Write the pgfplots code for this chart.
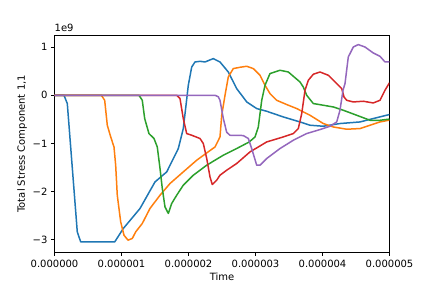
\documentclass[border=0pt]{standalone}
\usepackage{fontspec}
\setmainfont{DejaVu Sans}
\usepackage{pgfplots}
\pgfplotsset{compat=1.18}
\definecolor{c0}{HTML}{1F77B4}
\definecolor{c1}{HTML}{FF7F0E}
\definecolor{c2}{HTML}{2CA02C}
\definecolor{c3}{HTML}{D62728}
\definecolor{c4}{HTML}{9467BD}
\begin{document}
\begin{tikzpicture}
\useasboundingbox (-54.5pt,-35.7pt) rectangle (377.5pt,252.3pt);
\begin{axis}[
  at={(0pt,0pt)}, anchor=south west,
  scale only axis, width=335pt, height=217pt,
  xmin=0, xmax=5, ymin=-3.26, ymax=1.245,
  xtick={0,1,2,3,4,5},
  xticklabels={0.000000,0.000001,0.000002,0.000003,0.000004,0.000005},
  ytick={-3,-2,-1,0,1},
  yticklabels={−3,−2,−1,0,1},
  tick align=outside, major tick length=3.5pt,
  every tick/.style={black, line width=0.8pt},
  axis line style={line width=0.8pt},
  xtick pos=bottom, ytick pos=left,
  ticklabel style={font=\fontsize{10}{12}\selectfont},
  xticklabel style={yshift=-1pt},
  xlabel={Time}, ylabel={Total Stress Component 1,1},
  label style={font=\fontsize{10}{12}\selectfont},
  xlabel style={at={(axis description cs:0.5,-0.114)}, anchor=center},
  ylabel style={at={(axis description cs:-0.097,0.5)}, anchor=center, rotate=0},
  clip=true,
  every axis plot/.append style={line width=1.5pt, line join=round},
]
\addplot[c0] coordinates {
(0,0) (0.142,0) (0.191,-0.172) (0.340,-2.836) (0.391,-3.044) (0.899,-3.044)
(1.027,-2.766) (1.276,-2.351) (1.500,-1.799) (1.675,-1.591) (1.848,-1.106)
(1.922,-0.691) (1.963,-0.207) (1.997,0.207) (2.048,0.587) (2.097,0.691)
(2.172,0.705) (2.246,0.691) (2.370,0.761) (2.470,0.691) (2.594,0.483)
(2.719,0.139) (2.869,-0.139) (3.018,-0.276) (3.167,-0.332) (3.415,-0.450)
(3.664,-0.554) (3.813,-0.622) (4.012,-0.643) (4.261,-0.587) (4.560,-0.554)
(4.758,-0.483) (5.0,-0.40)
};
\addplot[c1] coordinates {
(0,0) (0.699,0) (0.749,-0.104) (0.788,-0.622) (0.839,-0.865) (0.888,-1.073)
(0.913,-1.452) (0.937,-2.075) (0.988,-2.629) (1.037,-2.905) (1.097,-3.008)
(1.161,-2.973) (1.212,-2.836) (1.310,-2.662) (1.425,-2.35) (1.575,-2.075)
(1.724,-1.832) (1.922,-1.591) (2.122,-1.349) (2.272,-1.197) (2.396,-1.073)
(2.470,-0.865) (2.496,-0.415) (2.545,0) (2.594,0.380) (2.669,0.554)
(2.769,0.581) (2.869,0.602) (2.967,0.554) (3.067,0.415) (3.142,0.207)
(3.216,0.035) (3.316,-0.104) (3.466,-0.193) (3.615,-0.276) (3.813,-0.415)
(4.012,-0.587) (4.161,-0.658) (4.361,-0.705) (4.560,-0.691) (4.709,-0.622)
(4.858,-0.554) (5.0,-0.515)
};
\addplot[c2] coordinates {
(0,0) (1.261,0) (1.310,-0.104) (1.346,-0.483) (1.410,-0.795) (1.485,-0.898)
(1.534,-1.073) (1.575,-1.521) (1.609,-1.936) (1.649,-2.317) (1.699,-2.454)
(1.749,-2.247) (1.824,-2.075) (1.922,-1.867) (2.072,-1.660) (2.272,-1.452)
(2.519,-1.245) (2.719,-1.106) (2.907,-0.969) (2.993,-0.865) (3.042,-0.658)
(3.093,-0.104) (3.142,0.207) (3.216,0.450) (3.366,0.519) (3.490,0.483)
(3.664,0.276) (3.713,0.172) (3.764,0) (3.863,-0.172) (4.012,-0.207)
(4.161,-0.243) (4.310,-0.311) (4.510,-0.415) (4.709,-0.519) (4.858,-0.519)
(5.0,-0.495)
};
\addplot[c3] coordinates {
(0,0) (1.824,0) (1.873,-0.068) (1.922,-0.483) (1.973,-0.795) (2.048,-0.830)
(2.172,-0.898) (2.221,-1.002) (2.272,-1.313) (2.321,-1.695) (2.355,-1.853)
(2.421,-1.763) (2.470,-1.660) (2.570,-1.556) (2.719,-1.417) (2.918,-1.176)
(3.167,-0.969) (3.415,-0.865) (3.564,-0.795) (3.639,-0.691) (3.690,-0.380)
(3.739,0.104) (3.788,0.311) (3.863,0.436) (3.963,0.483) (4.087,0.415)
(4.212,0.243) (4.287,0.139) (4.321,-0.035) (4.361,-0.104) (4.460,-0.139)
(4.609,-0.124) (4.758,-0.160) (4.858,-0.104) (4.933,0.104) (5.0,0.26)
};
\addplot[c4] coordinates {
(0,0) (2.396,0) (2.445,-0.031) (2.470,-0.104) (2.519,-0.477) (2.570,-0.768)
(2.619,-0.830) (2.818,-0.836) (2.893,-0.898) (2.943,-1.106) (3.018,-1.452)
(3.067,-1.452) (3.167,-1.313) (3.366,-1.106) (3.564,-0.934) (3.764,-0.795)
(3.963,-0.712) (4.112,-0.643) (4.212,-0.554) (4.261,-0.311) (4.306,0.104)
(4.336,0.243) (4.385,0.795) (4.460,1.002) (4.534,1.052) (4.634,1.002)
(4.758,0.878) (4.858,0.809) (4.933,0.691) (5.0,0.691)
};
\end{axis}
\node[anchor=south west, inner sep=0pt, font=\fontsize{10}{12}\selectfont] at (0pt,220pt) {1e9};
\end{tikzpicture}
\end{document}
